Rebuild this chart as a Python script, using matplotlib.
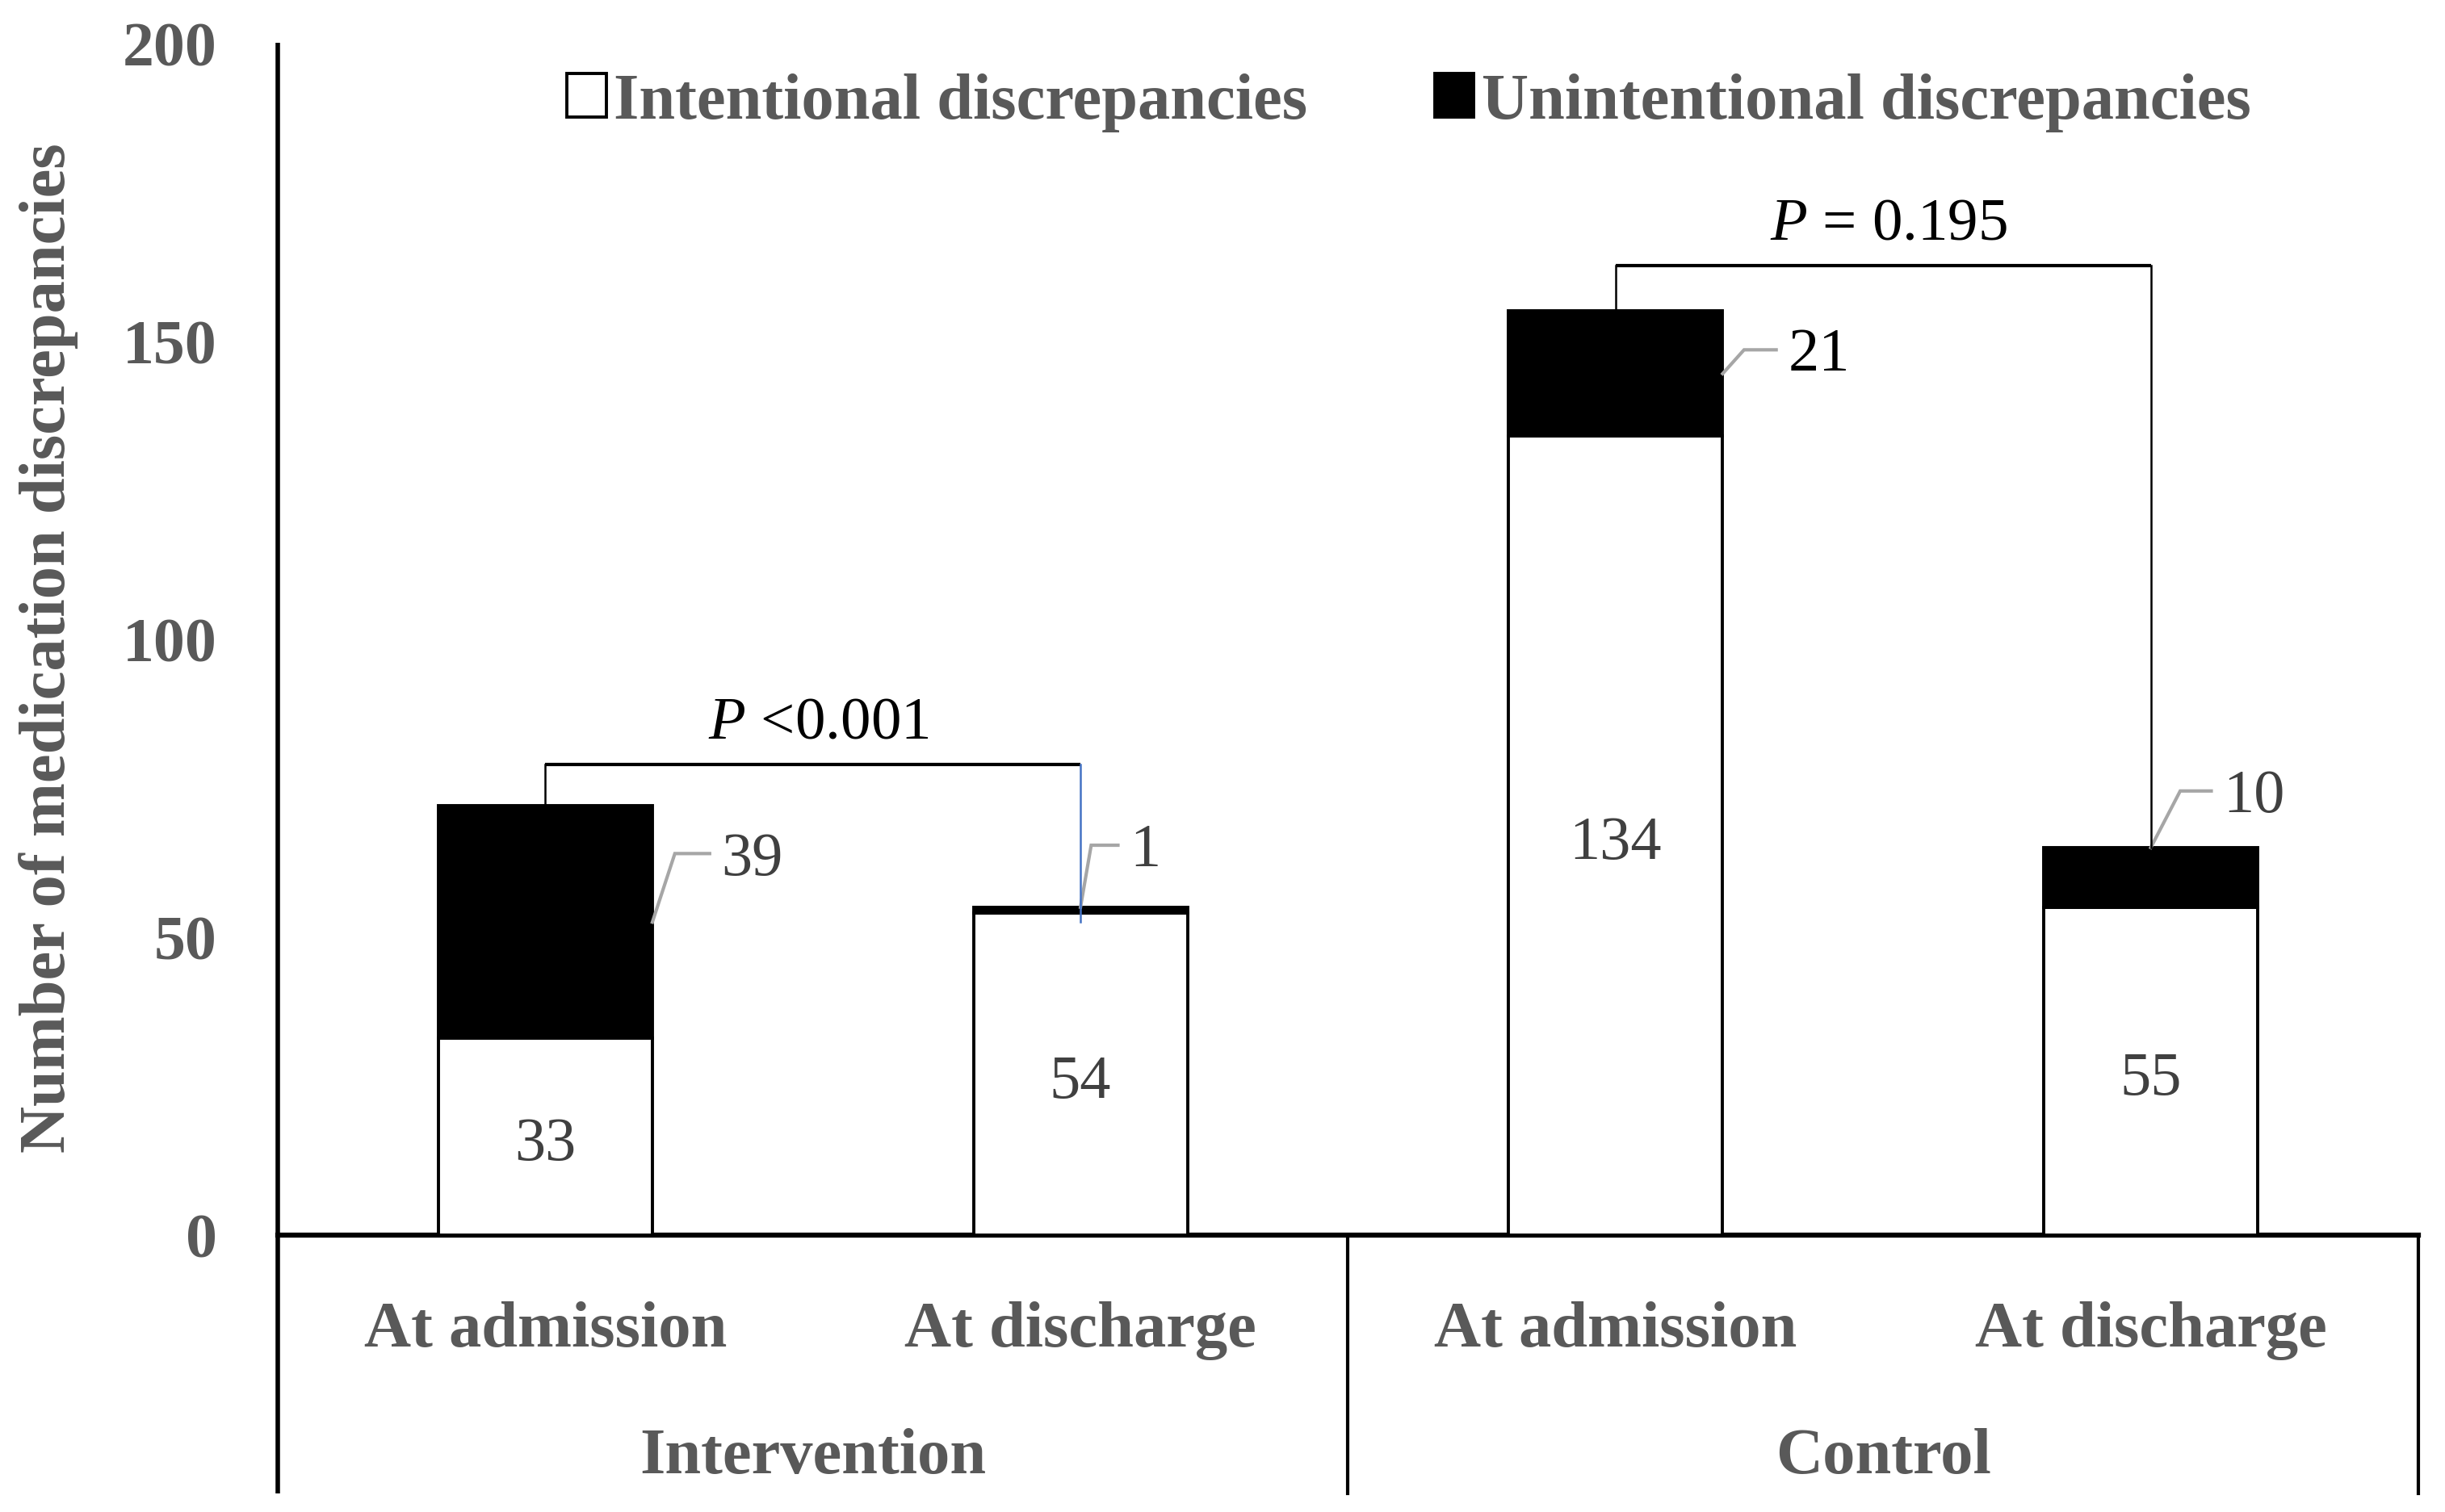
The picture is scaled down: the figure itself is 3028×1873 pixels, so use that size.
import matplotlib
matplotlib.use("Agg")
import matplotlib.pyplot as plt
from matplotlib.patches import Patch

# ---- data ----
time_points = ["At admission", "At discharge", "At admission", "At discharge"]
groups = ["Intervention", "Control"]
intentional = [33, 54, 134, 55]
unintentional = [39, 1, 21, 10]
p_labels = ["<0.001", "= 0.195"]
series_names = ["Intentional discrepancies", "Unintentional discrepancies"]
yticks = [0, 50, 100, 150, 200]

# ---- style ----
plt.rcParams['font.family'] = ['Liberation Serif', 'DejaVu Serif']
plt.rcParams['mathtext.fontset'] = 'custom'
plt.rcParams['mathtext.it'] = 'Liberation Serif:italic'
plt.rcParams['mathtext.rm'] = 'Liberation Serif'
GREY = '#595959'
NUM = '#404040'
LEADER = '#a6a6a6'

W, H, DPI = 3028, 1874, 100
fig = plt.figure(figsize=(W / DPI, H / DPI), dpi=DPI)
left_px, right_px, top_px, bot_px = 344, 2995, 54, 1531
ax = fig.add_axes([left_px / W, 1 - bot_px / H, (right_px - left_px) / W, (bot_px - top_px) / H])

x = list(range(len(intentional)))
bw = 0.4
ax.bar(x, intentional, width=bw, color='white', edgecolor='black', linewidth=2.8, zorder=3)
ax.bar(x, unintentional, width=bw, bottom=intentional, color='black', edgecolor='black',
       linewidth=2.8, zorder=3)

ax.set_xlim(-0.5, 3.5)
ax.set_ylim(0, 200)
ax.set_yticks(yticks)
ax.set_yticklabels([str(t) for t in yticks], fontsize=56, fontweight='bold', color=GREY)
ax.tick_params(axis='y', length=0, pad=54)
ax.set_xticks([])
for s in ['top', 'right', 'left']:
    ax.spines[s].set_visible(False)
ax.spines['bottom'].set_linewidth(4.5)

# extended frame lines below the axis (category table)
ext = -(1851 - bot_px) / (bot_px - top_px)
xt = ax.get_xaxis_transform()
ax.plot([0, 0], [1, ext], transform=ax.transAxes, color='black', lw=4, clip_on=False,
        solid_capstyle='butt')
ax.plot([1, 1], [0, ext], transform=ax.transAxes, color='black', lw=3, clip_on=False)
ax.plot([1.5, 1.5], [0, ext], transform=xt, color='black', lw=3, clip_on=False)

# category labels
cat_y = -(1649 - bot_px) / (bot_px - top_px)
grp_y = -(1806 - bot_px) / (bot_px - top_px)
for xi, lab in zip(x, time_points):
    ax.text(xi, cat_y, lab, transform=xt, ha='center', va='center', fontsize=58,
            fontweight='bold', color=GREY)
for gi, g in enumerate(groups):
    ax.text(0.5 + 2 * gi, grp_y, g, transform=xt, ha='center', va='center', fontsize=58,
            fontweight='bold', color=GREY)

# y label
ax.set_ylabel("Number of medication discrepancies", fontsize=58, fontweight='bold', color=GREY)
ax.yaxis.set_label_coords((97 - left_px) / (right_px - left_px), (bot_px - 803) / (bot_px - top_px))

# values inside intentional segments
for xi, v in zip(x, intentional):
    ax.text(xi, v / 2 - 1.3, str(v), ha='center', va='center', fontsize=55, color=NUM, zorder=4)

# unintentional labels with leader lines
anchor_dx = [0.2, 0.0, 0.2, 0.0]
anchor_mid = [True, False, True, False]
rise = [11.5, 10.4, 4.0, 9.5]
elbow_dx = [0.042, 0.02, 0.04, 0.055]
hor_len = [0.065, 0.05, 0.06, 0.058]
for i, (xi, a, u) in enumerate(zip(x, intentional, unintentional)):
    ay = a + u / 2 if anchor_mid[i] else a + u
    ax0 = xi + anchor_dx[i]
    ty = ay + rise[i]
    ex = ax0 + elbow_dx[i]
    hx = ex + hor_len[i]
    ax.plot([ax0, ex, hx], [ay, ty, ty], color=LEADER, lw=3, zorder=5, solid_joinstyle='miter')
    ax.text(hx + 0.022, ty - 0.9, str(u), ha='left', va='center', fontsize=55,
            color=('black' if i == 2 else NUM), zorder=5)

# significance brackets
tops = [a + u for a, u in zip(intentional, unintentional)]
bracket_y = [79, 162.6]
for gi in range(2):
    i0, i1 = 2 * gi, 2 * gi + 1
    by = bracket_y[gi]
    ax.plot([i0, i1], [by, by], color='black', lw=3, zorder=6, solid_capstyle='butt')
    ax.plot([i0, i0], [tops[i0], by], color='black', lw=1.8, zorder=6)
    if gi == 0:
        ax.plot([i1, i1], [intentional[i1] - 1.5, by], color='#4472C4', lw=1.8, zorder=6)
    else:
        ax.plot([i1, i1], [tops[i1], by], color='black', lw=1.8, zorder=6)
    ax.text((i0 + i1) / 2 + 0.01, by + 6.9, r'$\mathit{P}$ ' + p_labels[gi], ha='center',
            va='center', fontsize=54, color='black')

# legend
handles = [Patch(facecolor='white', edgecolor='black', linewidth=2.8, label=series_names[0]),
           Patch(facecolor='black', edgecolor='black', linewidth=2.8, label=series_names[1])]
leg = ax.legend(handles=handles, loc='center',
                bbox_to_anchor=((1745 - left_px) / (right_px - left_px), (bot_px - 128) / (bot_px - top_px)),
                ncol=2, frameon=False, fontsize=58, handlelength=0.6, handleheight=0.66,
                handletextpad=0.12, columnspacing=1.95, borderpad=0, borderaxespad=0)
for t in leg.get_texts():
    t.set_color(GREY)
    t.set_fontweight('bold')

fig.savefig("out.png", dpi=DPI, facecolor='white')
